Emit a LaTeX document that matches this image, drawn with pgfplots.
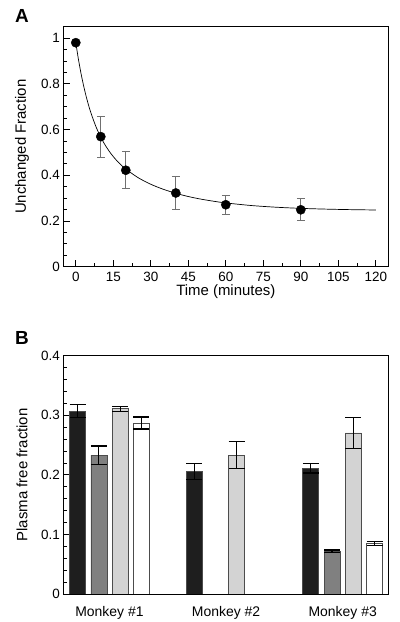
\documentclass[border=0pt]{standalone}
\usepackage{fontspec}
\setmainfont{Liberation Sans}
\usepackage{pgfplots}
\pgfplotsset{compat=1.18}
\definecolor{barblack}{HTML}{1E1E1E}
\definecolor{bardark}{HTML}{808080}
\definecolor{barlight}{HTML}{D3D3D3}
\definecolor{errgrey}{HTML}{707070}
\pgfplotsset{barerr/.style={draw=black!70, line width=0.6bp,
    error bars/y dir=both, error bars/y explicit,
    error bars/error bar style={black, line width=1.2bp},
    error bars/error mark options={black, line width=1.2bp, rotate=90, mark size=8bp}}}
\begin{document}
\begin{tikzpicture}
\useasboundingbox (0bp,0bp) rectangle (400bp,622bp);
\node[font=\bfseries\fontsize{19}{19}\selectfont, anchor=base west, inner sep=0pt] at (15bp,599bp) {A};
\node[font=\bfseries\fontsize{19}{19}\selectfont, anchor=base west, inner sep=0pt] at (15bp,277bp) {B};

\begin{axis}[
  at={(63.3bp,355.3bp)}, anchor=south west, scale only axis,
  width=325bp, height=240bp,
  xmin=-5, xmax=125, ymin=0, ymax=1.05,
  xtick={0,15,30,45,60,75,90,105,120},
  ytick={0,0.2,0.4,0.6,0.8,1},
  minor x tick num=1, minor y tick num=3,
  tick align=inside, xtick pos=bottom, ytick pos=left,
  major tick length=7bp, minor tick length=4bp,
  axis line style={line width=0.8bp},
  tick style={line width=0.8bp, black},
  /pgf/number format/assume math mode=true,
  ticklabel style={font=\fontsize{13.5}{14}\selectfont},
  xticklabel style={yshift=-2bp},
  label style={font=\fontsize{15}{16}\selectfont},
  xlabel={Time (minutes)}, ylabel={Unchanged Fraction},
  xlabel style={at={(axis description cs:0.5,-0.122)}, anchor=base},
  ylabel style={at={(axis description cs:-0.127,0.5)}, anchor=center},
]
\addplot[black, line width=0.7bp, smooth] coordinates {
(0,0.980) (1,0.9108) (2,0.8505) (3,0.7977) (4,0.7513) (5,0.7105) (6,0.6745)
(8,0.6142) (10,0.5662) (12,0.5274) (14,0.4955) (16,0.4688) (18,0.4464)
(20,0.4270) (25,0.3890) (30,0.3606) (35,0.3387) (40,0.3212) (45,0.3070)
(50,0.2957) (55,0.2866) (60,0.2790) (70,0.2678) (80,0.2603) (90,0.2552)
(100,0.2519) (110,0.2496) (120,0.2481)};
\addplot[only marks, mark=*, mark size=4.6bp, black,
  error bars/.cd, y dir=both, y explicit,
  error bar style={color=errgrey, line width=0.8bp},
  error mark options={color=errgrey, line width=0.8bp, rotate=90, mark size=4bp}]
coordinates {
(0,0.98) +- (0,0)
(10,0.569) +- (0,0.090)
(20,0.422) +- (0,0.081)
(40,0.3225) +- (0,0.0715)
(60,0.271) +- (0,0.041)
(90,0.249) +- (0,0.048)};
\end{axis}

\begin{axis}[
  at={(63.3bp,28bp)}, anchor=south west, scale only axis,
  width=325bp, height=238.3bp,
  xmin=-0.396, xmax=2.391, ymin=0, ymax=0.4,
  xtick={0,1,2}, xticklabels={Monkey \#1, Monkey \#2, Monkey \#3},
  ytick={0,0.1,0.2,0.3,0.4}, minor y tick num=4,
  tick align=inside, xtick pos=bottom, ytick pos=left,
  major tick length=7bp, minor tick length=4bp,
  major x tick style={draw=none},
  axis line style={line width=0.8bp},
  tick style={line width=0.8bp, black},
  /pgf/number format/assume math mode=true,
  yticklabel style={font=\fontsize{13.5}{14}\selectfont},
  xticklabel style={font=\fontsize{14}{15}\selectfont, yshift=-1.5bp},
  label style={font=\fontsize{15}{16}\selectfont},
  ylabel={Plasma free fraction},
  ylabel style={at={(axis description cs:-0.127,0.5)}, anchor=center},
  ybar, bar width=0.137, bar shift=0pt,
]
\addplot[barerr, fill=barblack] coordinates {
(-0.274,0.307) +- (0,0.011)
(0.726,0.206) +- (0,0.0135)
(1.726,0.211) +- (0,0.008)};
\addplot[barerr, fill=bardark] coordinates {
(-0.0913,0.233) +- (0,0.0153)
(1.9087,0.072) +- (0,0.002)};
\addplot[barerr, fill=barlight] coordinates {
(0.0913,0.311) +- (0,0.004)
(1.0913,0.233) +- (0,0.023)
(2.0913,0.2705) +- (0,0.026)};
\addplot[barerr, fill=white] coordinates {
(0.274,0.287) +- (0,0.010)
(2.274,0.085) +- (0,0.003)};
\end{axis}
\end{tikzpicture}
\end{document}
